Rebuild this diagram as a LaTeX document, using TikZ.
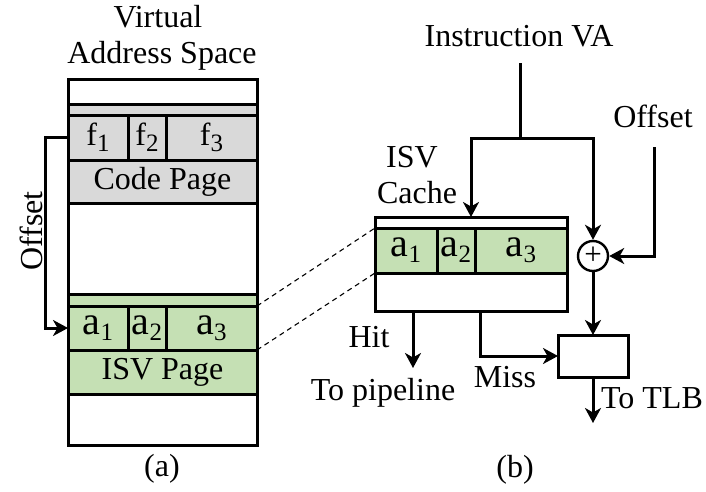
\documentclass[tikz,border=0pt]{standalone}
\usepackage{fontspec}
\setmainfont{Liberation Serif}
\usetikzlibrary{arrows.meta}
\definecolor{codegray}{HTML}{D9D9D9}
\definecolor{isvgreen}{HTML}{C5E0B4}
\newcommand{\lowsub}[1]{\raisebox{-6pt}{\fontsize{25}{25}\selectfont #1}}
\newcommand{\biga}{{\fontsize{40}{40}\selectfont a}}
\begin{document}
\begin{tikzpicture}[x=1pt,y=-1pt,
  txt/.style={font=\fontsize{32}{38}\selectfont, inner sep=0pt, outer sep=0pt, anchor=base},
  cell/.style={draw, line width=3pt, inner sep=0pt, outer sep=0pt, anchor=north west, font=\fontsize{32}{38}\selectfont},
  wire/.style={line width=3pt},
  arr/.style={wire, -{Stealth[length=15pt,width=16pt,inset=4.5pt]}},
  dashline/.style={line width=1.1pt, dash pattern=on 5pt off 4pt}
]
\useasboundingbox (0,0) rectangle (706,491);

% (a) virtual address space
\node[cell, fill=white, minimum width=189pt, minimum height=366pt] (vas) at (68,79) {};
\node[cell, fill=codegray, minimum width=189pt, minimum height=11pt] (cstrip) at (68,104) {};
\node[cell, fill=codegray, minimum width=60pt, minimum height=45pt] (f1) at (68,115) {f\lowsub{1}};
\node[cell, fill=codegray, minimum width=38pt, minimum height=45pt] (f2) at (128,115) {f\lowsub{2}};
\node[cell, fill=codegray, minimum width=91pt, minimum height=45pt] (f3) at (166,115) {f\lowsub{3}};
\node[cell, fill=codegray, minimum width=189pt, minimum height=43pt] (code) at (68,160) {Code Page};
\node[cell, fill=isvgreen, minimum width=189pt, minimum height=12pt] (astrip) at (68,294) {};
\node[cell, fill=isvgreen, minimum width=60pt, minimum height=44pt] (a1) at (68,306) {\biga\lowsub{1}};
\node[cell, fill=isvgreen, minimum width=38pt, minimum height=44pt] (a2) at (128,306) {\biga\lowsub{2}};
\node[cell, fill=isvgreen, minimum width=91pt, minimum height=44pt] (a3) at (166,306) {\biga\lowsub{3}};
\node[cell, fill=isvgreen, minimum width=189pt, minimum height=44pt] (isvpage) at (68,350) {ISV Page};

\node[txt] (vt1) at (158,27) {Virtual};
\node[txt] (vt2) at (162,63) {Address Space};
\node[txt, rotate=90] (offl) at (42,231) {Offset};
\node[txt] (capa) at (162,476) {(a)};

\draw[arr] (f1.west) -- ++(-23,0) |- (a1.west);

% (b) ISV cache
\node[cell, fill=white, minimum width=192pt, minimum height=94pt] (cache) at (375,217) {};
\node[cell, fill=isvgreen, minimum width=62pt, minimum height=45pt] (c1) at (375,228) {\biga\lowsub{1}};
\node[cell, fill=isvgreen, minimum width=38pt, minimum height=45pt] (c2) at (437,228) {\biga\lowsub{2}};
\node[cell, fill=isvgreen, minimum width=92pt, minimum height=45pt] (c3) at (475,228) {\biga\lowsub{3}};
\node[cell, fill=white, minimum width=70pt, minimum height=42pt] (tlbbox) at (558,335) {};
\node[draw, circle, line width=2.4pt, minimum size=30pt, inner sep=0pt, font=\fontsize{31}{31}\selectfont] (plus) at (593,256) {+};

\draw[dashline] (a3.north east) -- (c1.north west);
\draw[dashline] (a3.south east) -- (c1.south west);

\node[txt] (instva) at (519,46) {Instruction VA};
\node[txt] (isv) at (412,167) {ISV};
\node[txt] (cachelbl) at (417,203) {Cache};
\node[txt] (offr) at (653,127) {Offset};
\node[txt] (hit) at (369,347) {Hit};
\node[txt] (topipe) at (383,400) {To pipeline};
\node[txt] (miss) at (505,387) {Miss};
\node[txt] (totlb) at (652,408) {To TLB};
\node[txt] (capb) at (515,477) {(b)};

\coordinate (vatop) at (520,63);
\coordinate (vaj) at (520,138);
\coordinate (offtop) at (654,147);
\coordinate (missst) at (480,311);
\coordinate (hitst) at (413,311);
\coordinate (hitend) at (413,368);
\coordinate (tlbend) at (593,423);

\draw[wire] (vatop) -- (vaj);
\draw[arr] (vaj) -| (cache.north);
\draw[arr] (vaj) -| (plus.north);
\draw[arr] (offtop) |- (plus.east);
\draw[arr] (plus.south) -- (tlbbox.north);
\draw[arr] (missst) |- (tlbbox.west);
\draw[arr] (hitst) -- (hitend);
\draw[arr] (tlbbox.south) -- (tlbend);
\end{tikzpicture}
\end{document}
